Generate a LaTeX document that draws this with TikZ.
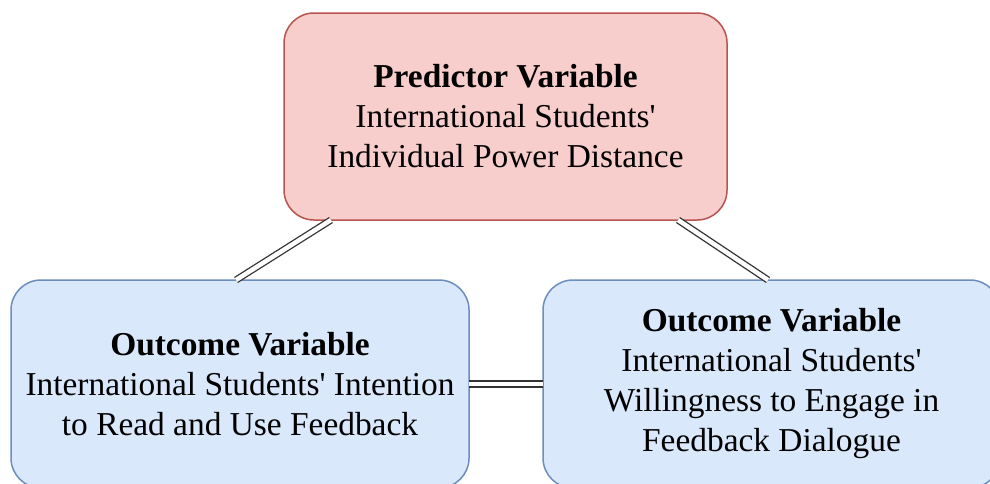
\documentclass[tikz,border=0pt]{standalone}
\usepackage{fontspec}
\setmainfont{Liberation Serif}[Ligatures=TeXOff]
\definecolor{predfill}{HTML}{F8CECC}
\definecolor{predline}{HTML}{B85450}
\definecolor{outfill}{HTML}{DAE8FC}
\definecolor{outline}{HTML}{6C8EBF}
\definecolor{linkgray}{HTML}{333333}
\tikzset{
  varbox/.style={rectangle, rounded corners=30pt, line width=1.5pt,
    align=center, inner sep=4pt, outer sep=0pt,
    font=\fontsize{33.4}{40}\selectfont},
  predbox/.style={varbox, fill=predfill, draw=predline},
  outbox/.style={varbox, fill=outfill, draw=outline},
  link/.style={draw=linkgray, line width=1.3pt, double=white, double distance=4.5pt}
}
\begin{document}
\begin{tikzpicture}[x=1pt, y=-1pt]
  \useasboundingbox (0,0) rectangle (990,483);
  \fill[white] (0,0) rectangle (990,483);
  \clip (0,0) rectangle (990,483);

  \node[predbox, minimum width=443pt, minimum height=207pt] (pred) at (505.5,116.5)
    {\textbf{Predictor Variable}\\International Students'\\Individual Power Distance};
  \node[outbox, minimum width=458pt, minimum height=208pt] (left) at (240,384)
    {\textbf{Outcome Variable}\\International Students' Intention\\to Read and Use Feedback};
  \node[outbox, minimum width=457pt, minimum height=208pt] (right) at (771.5,384)
    {\textbf{Outcome Variable}\\International Students'\\Willingness to Engage in\\Feedback Dialogue};

  \draw[link] ([xshift=47pt]pred.south west) -- ([xshift=225pt]left.north west);
  \draw[link] ([xshift=394pt]pred.south west) -- ([xshift=225pt]right.north west);
  \draw[link] (left.east) -- (right.west);
\end{tikzpicture}
\end{document}
